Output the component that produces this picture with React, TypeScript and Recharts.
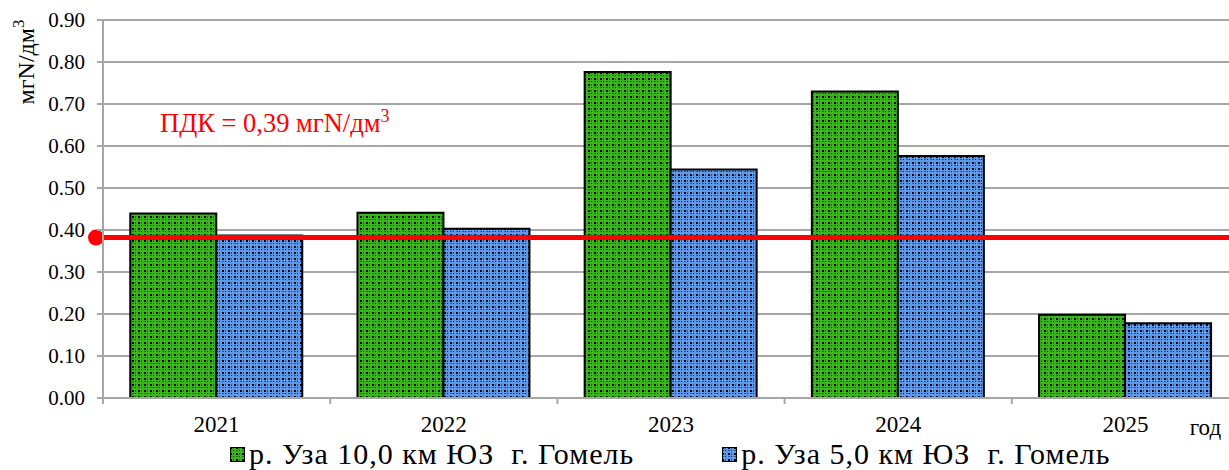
import React from "react";
import {
  Bar,
  BarChart,
  CartesianGrid,
  Legend,
  ReferenceLine,
  XAxis,
  YAxis,
} from "recharts";

const years = ["2021", "2022", "2023", "2024", "2025"];
const uza10 = [0.439, 0.441, 0.776, 0.73, 0.198];
const uza5 = [0.387, 0.403, 0.544, 0.576, 0.178];
const yTicks = [0, 0.1, 0.2, 0.3, 0.4, 0.5, 0.6, 0.7, 0.8, 0.9];
const pdkLevel = 0.382;

const seriesNames = ["р. Уза 10,0 км ЮЗ  г. Гомель", "р. Уза 5,0 км ЮЗ  г. Гомель"];

const data = years.map((year, i) => ({ year, uza10: uza10[i], uza5: uza5[i] }));

const FONT = '"Liberation Serif", "Times New Roman", serif';
const GRID = "#a6a6a6";

const WIDTH = 1239;
const HEIGHT = 470;
const PLOT_LEFT = 103;

function PdkLine(props: any) {
  const { x1, x2, y1 } = props;
  return (
    <g>
      <line x1={x1 - 7} x2={x2 + 7} y1={y1} y2={y1} stroke="#ff0000" strokeWidth={5} />
      <circle cx={x1 - 7} cy={y1} r={8} fill="#ff0000" />
      <circle cx={x2 + 7} cy={y1} r={8} fill="#ff0000" />
    </g>
  );
}

function PdkLabel(props: any) {
  const { viewBox } = props;
  return (
    <text x={viewBox.x + 57} y={viewBox.y - 106} fill="#ff0000" style={{ fontFamily: FONT }} fontSize={26.5}>
      ПДК = 0,39 мгN/дм
      <tspan dy={-10} fontSize={18}>3</tspan>
    </text>
  );
}

function YLabel() {
  return (
    <text
      transform="translate(34, 62) rotate(-90)"
      textAnchor="middle"
      style={{ fontFamily: FONT }}
      fontSize={24}
      fill="#000"
    >
      мгN/дм
      <tspan dy={-10} fontSize={17}>3</tspan>
    </text>
  );
}

function XTick(props: any) {
  const { x, y, payload, index } = props;
  const band = (WIDTH - PLOT_LEFT) / years.length;
  return (
    <g>
      <line x1={x - band / 2} x2={x - band / 2} y1={y - 8} y2={y - 2} stroke={GRID} strokeWidth={2} />
      <text x={x} y={y + 26} textAnchor="middle" style={{ fontFamily: FONT }} fontSize={23} fill="#000">
        {payload.value}
      </text>
      {index === years.length - 1 && (
        <text x={x + 80} y={y + 29} textAnchor="middle" style={{ fontFamily: FONT }} fontSize={23} fill="#000">
          год
        </text>
      )}
    </g>
  );
}

function YTick(props: any) {
  const { x, y, payload } = props;
  return (
    <text x={x} y={y + 7} textAnchor="end" style={{ fontFamily: FONT }} fontSize={21} fill="#000">
      {Number(payload.value).toFixed(2)}
    </text>
  );
}

function LegendContent() {
  const fills = ["url(#patGreen)", "url(#patBlue)"];
  return (
    <div
      style={{
        display: "flex",
        alignItems: "center",
        fontFamily: FONT,
        fontSize: 30,
        lineHeight: "26px",
        letterSpacing: 1,
        whiteSpace: "pre",
      }}
    >
      {seriesNames.map((name, i) => (
        <div key={name} style={{ display: "flex", alignItems: "center", marginRight: i === 0 ? 88 : 0 }}>
          <svg width={15} height={15} style={{ marginRight: 4 }}>
            <rect x={0.5} y={0.5} width={14} height={14} fill={fills[i]} stroke="#000" strokeWidth={1} />
          </svg>
          <span>{name}</span>
        </div>
      ))}
    </div>
  );
}

export default function App() {
  return (
    <div style={{ position: "absolute", left: 0, top: 0, width: 1229, height: HEIGHT, overflow: "hidden", background: "#fff" }}>
      <BarChart
        width={WIDTH}
        height={HEIGHT}
        data={data}
        margin={{ top: 20, right: 0, left: 0, bottom: 0 }}
        barCategoryGap="12%"
        barGap={0}
      >
        <defs>
          <pattern id="patGreen" width={6} height={6} patternUnits="userSpaceOnUse">
            <rect width={6} height={6} fill="#3ab51e" />
            <rect x={0} y={0} width={2} height={2} fill="#000" />
            <rect x={3} y={3} width={1} height={1} fill="#0a2a05" />
            <rect x={3} y={0} width={1} height={2} fill="#23700f" />
            <rect x={0} y={3} width={2} height={1} fill="#23700f" />
          </pattern>
          <pattern id="patBlue" width={6} height={6} patternUnits="userSpaceOnUse">
            <rect width={6} height={6} fill="#5e98e8" />
            <rect x={0} y={0} width={2} height={2} fill="#000" />
            <rect x={3} y={3} width={1} height={1} fill="#0c1a30" />
            <rect x={3} y={0} width={1} height={2} fill="#30548a" />
            <rect x={0} y={3} width={2} height={1} fill="#30548a" />
          </pattern>
        </defs>
        <CartesianGrid vertical={false} stroke={GRID} strokeWidth={2} />
        <XAxis
          dataKey="year"
          height={42}
          axisLine={{ stroke: GRID, strokeWidth: 2 }}
          tickLine={false}
          tick={<XTick />}
        />
        <YAxis
          width={PLOT_LEFT}
          domain={[0, 0.9]}
          ticks={yTicks}
          interval={0}
          axisLine={{ stroke: GRID, strokeWidth: 2 }}
          tickLine={{ stroke: GRID, strokeWidth: 2 }}
          tickSize={6}
          tickMargin={12}
          tick={<YTick />}
          label={<YLabel />}
        />
        <Legend
          verticalAlign="bottom"
          height={30}
          content={<LegendContent />}
          wrapperStyle={{ left: 230, width: 1000, top: 441, bottom: "auto" }}
        />
        <Bar dataKey="uza10" name={seriesNames[0]} fill="url(#patGreen)" stroke="#000" strokeWidth={2} isAnimationActive={false} />
        <Bar dataKey="uza5" name={seriesNames[1]} fill="url(#patBlue)" stroke="#000" strokeWidth={2} isAnimationActive={false} />
        <ReferenceLine y={pdkLevel} shape={<PdkLine />} label={<PdkLabel />} ifOverflow="visible" />
      </BarChart>
    </div>
  );
}
